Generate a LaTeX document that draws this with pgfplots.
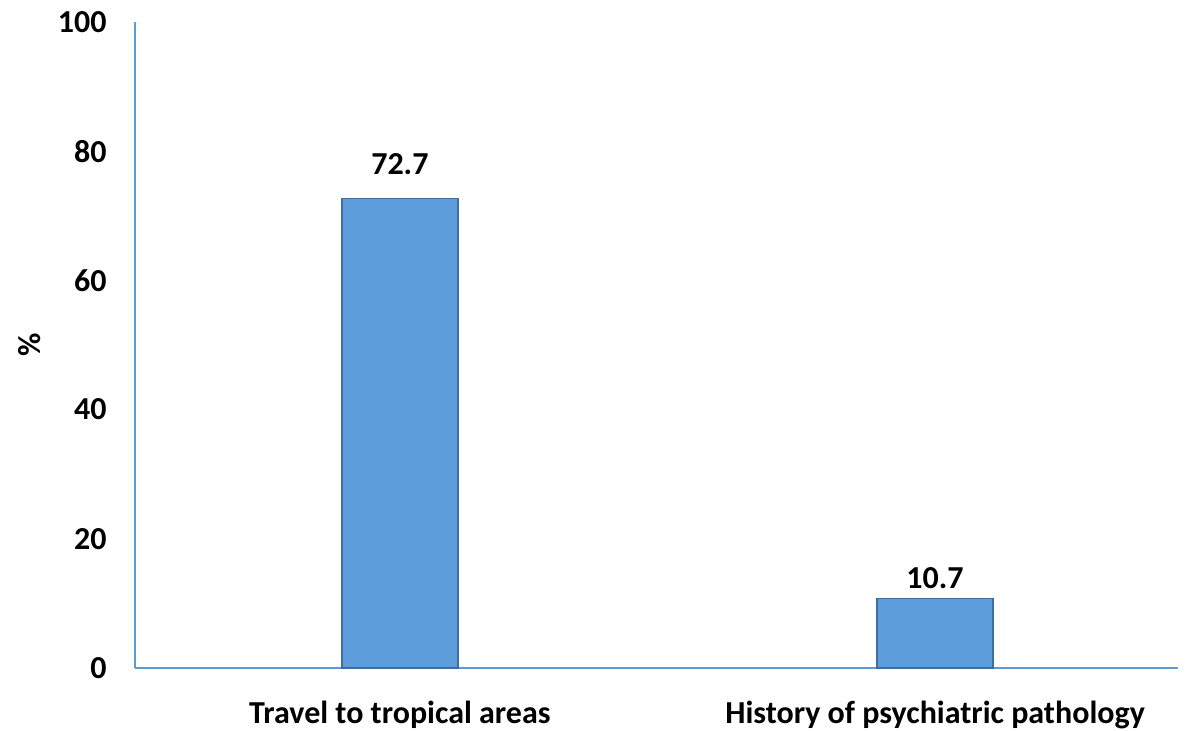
\documentclass[border=0pt]{standalone}
\usepackage{pgfplots}
\pgfplotsset{compat=1.18}
\usepackage{fontspec}
\setmainfont{Carlito}
\definecolor{barblue}{RGB}{93,157,219}
\definecolor{baredge}{RGB}{62,110,160}
\definecolor{axisblue}{RGB}{91,155,213}
\begin{document}
\begin{tikzpicture}[x=1pt,y=1pt]
\path (0,0) rectangle (596,365.5);
\begin{axis}[
  at={(67.5pt,31.5pt)}, anchor=south west,
  scale only axis, width=521.5pt, height=323pt,
  xmin=-0.495, xmax=1.454, ymin=0, ymax=100,
  axis x line*=bottom, axis y line*=left,
  axis line style={axisblue, line width=1.3pt},
  ytick={0,20,40,60,80,100},
  xtick={0,1},
  xticklabels={Travel to tropical areas, History of psychiatric pathology},
  major tick length=0pt,
  tick label style={font=\bfseries\fontsize{16}{19}\selectfont},
  /pgf/number format/assume math mode=true,
  yticklabel style={anchor=east, inner sep=0pt, xshift=-14pt},
  xticklabel style={anchor=center, inner sep=0pt, yshift=-23.5pt},
  ylabel={\%},
  ylabel style={font=\bfseries\fontsize{16}{19}\selectfont, at={(axis description cs:0,0.5)}, anchor=center, rotate=0, yshift=52.5pt},
  ybar, bar width=58pt,
  clip=false,
]
\addplot[fill=barblue, draw=baredge, line width=0.6pt] coordinates {(0,72.7) (1,10.7)};
\node[font=\bfseries\fontsize{16}{19}\selectfont, anchor=center, yshift=17pt] at (axis cs:0,72.7) {72.7};
\node[font=\bfseries\fontsize{16}{19}\selectfont, anchor=center, yshift=10.5pt] at (axis cs:1,10.7) {10.7};
\end{axis}
\end{tikzpicture}
\end{document}
